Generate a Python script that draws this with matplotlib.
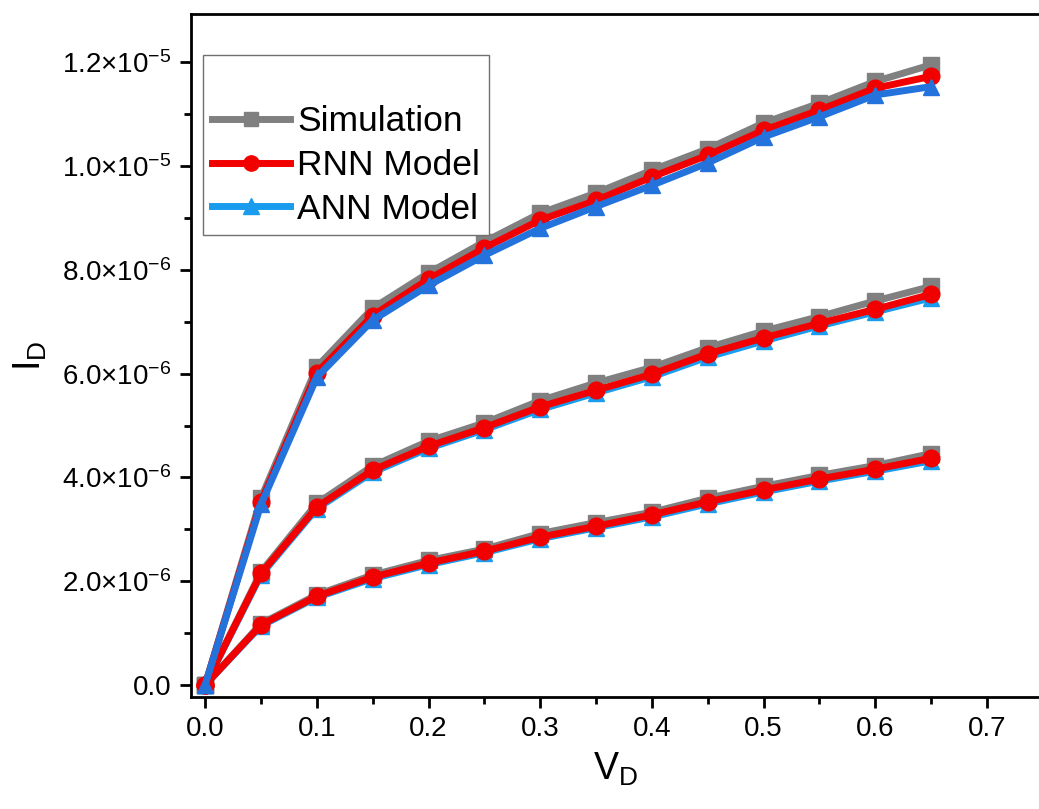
import matplotlib
matplotlib.use("Agg")
import matplotlib.pyplot as plt
from matplotlib.ticker import FuncFormatter, MultipleLocator
import numpy as np

plt.rcParams['font.family'] = ['Liberation Sans', 'DejaVu Sans']
plt.rcParams['mathtext.fontset'] = 'custom'
plt.rcParams['mathtext.rm'] = 'Liberation Sans'
plt.rcParams['mathtext.it'] = 'Liberation Sans:italic'
plt.rcParams['mathtext.bf'] = 'Liberation Sans:bold'

# drain voltage (V)
vd = [0.0, 0.05, 0.1, 0.15, 0.2, 0.25, 0.3, 0.35, 0.4, 0.45, 0.5, 0.55, 0.6, 0.65]

# drain current, in units of 1e-6 A
sim_high = [0.0, 3.60, 6.13, 7.26, 7.94, 8.54, 9.09, 9.48, 9.92, 10.33, 10.83, 11.21, 11.63, 11.95]
rnn_high = [0.0, 3.53, 6.02, 7.12, 7.82, 8.42, 8.96, 9.34, 9.79, 10.21, 10.69, 11.08, 11.50, 11.73]
ann_high = [0.0, 3.48, 5.93, 7.03, 7.70, 8.28, 8.80, 9.22, 9.63, 10.06, 10.56, 10.95, 11.37, 11.53]

sim_mid = [0.0, 2.18, 3.50, 4.22, 4.70, 5.05, 5.48, 5.82, 6.12, 6.50, 6.82, 7.10, 7.40, 7.68]
rnn_mid = [0.0, 2.15, 3.43, 4.14, 4.60, 4.96, 5.36, 5.68, 5.99, 6.38, 6.69, 6.97, 7.24, 7.53]
ann_mid = [0.0, 2.12, 3.40, 4.10, 4.56, 4.92, 5.31, 5.63, 5.94, 6.32, 6.63, 6.92, 7.19, 7.46]

sim_low = [0.0, 1.18, 1.74, 2.12, 2.40, 2.62, 2.92, 3.13, 3.33, 3.60, 3.83, 4.04, 4.23, 4.46]
rnn_low = [0.0, 1.16, 1.71, 2.08, 2.35, 2.58, 2.85, 3.06, 3.28, 3.53, 3.76, 3.97, 4.16, 4.37]
ann_low = [0.0, 1.14, 1.69, 2.05, 2.32, 2.55, 2.82, 3.03, 3.24, 3.49, 3.72, 3.93, 4.12, 4.32]

GRAY = '#808080'
RED = '#f20000'
BLUE_LIGHT = '#1a9cee'
BLUE_DARK = '#2472dc'

x = np.array(vd)
scale = 1e-6

fig = plt.figure(figsize=(10.39, 8.09), dpi=100)
ax = fig.add_axes([0.184, 0.1384, 0.816, 0.8443])

sim_kw = dict(lw=5, ms=11)
rnn_kw = dict(lw=5, ms=12)
ann_kw = dict(lw=5, ms=12)

# lower two curves: ANN under RNN
for sim, rnn, ann in [(sim_low, rnn_low, ann_low), (sim_mid, rnn_mid, ann_mid)]:
    ax.plot(x, np.array(sim) * scale, color=GRAY, marker='s', zorder=2, **sim_kw)
    ax.plot(x, np.array(ann) * scale, color=BLUE_LIGHT, marker='^', zorder=3, **ann_kw)
    ax.plot(x, np.array(rnn) * scale, color=RED, marker='o', zorder=4, **rnn_kw)

# upper curve: ANN drawn on top
ax.plot(x, np.array(sim_high) * scale, color=GRAY, marker='s', zorder=2, **sim_kw)
ax.plot(x, np.array(rnn_high) * scale, color=RED, marker='o', zorder=3, **rnn_kw)
ax.plot(x, np.array(ann_high) * scale, color=BLUE_DARK, marker='^', zorder=4, **ann_kw)

# legend handles
h_sim, = ax.plot([], [], color=GRAY, marker='s', lw=5, ms=10)
h_rnn, = ax.plot([], [], color=RED, marker='o', lw=5, ms=11)
h_ann, = ax.plot([], [], color=BLUE_LIGHT, marker='^', lw=5, ms=11)
leg = ax.legend([h_sim, h_rnn, h_ann], ['Simulation', 'RNN Model', 'ANN Model'],
                loc='upper left', bbox_to_anchor=(0.014, 0.94), fontsize=25.5,
                title=' ', title_fontsize=24, frameon=True, fancybox=False,
                edgecolor='#707070', framealpha=1, handlelength=2.2,
                handletextpad=0.2, labelspacing=0.3, borderpad=0.25,
                borderaxespad=0.0)
leg.get_frame().set_linewidth(1.0)

ax.set_xlim(-0.0125, 0.7466)
ax.set_ylim(-0.231e-6, 12.93e-6)

ax.xaxis.set_major_locator(MultipleLocator(0.1))
ax.xaxis.set_minor_locator(MultipleLocator(0.05))
ax.yaxis.set_major_locator(MultipleLocator(2e-6))
ax.yaxis.set_minor_locator(MultipleLocator(1e-6))


def sci_fmt(v, pos):
    if abs(v) < 1e-12:
        return '0.0'
    e = int(np.floor(np.log10(abs(v))))
    m = v / 10 ** e
    return f'{m:.1f}×10$^{{{e}}}$'


ax.yaxis.set_major_formatter(FuncFormatter(sci_fmt))
ax.xaxis.set_major_formatter(FuncFormatter(lambda v, p: f'{v:.1f}'))

ax.tick_params(which='major', direction='out', length=8, width=2, labelsize=20, pad=6)
ax.tick_params(which='minor', direction='out', length=5, width=2)

for side in ['left', 'bottom', 'top']:
    ax.spines[side].set_linewidth(2)
ax.spines['right'].set_visible(False)

ax.set_xlabel('V$_\\mathrm{D}$', fontsize=27, labelpad=6)
ax.set_ylabel('I$_\\mathrm{D}$', fontsize=27, labelpad=10)

fig.savefig('out.png', dpi=100)
